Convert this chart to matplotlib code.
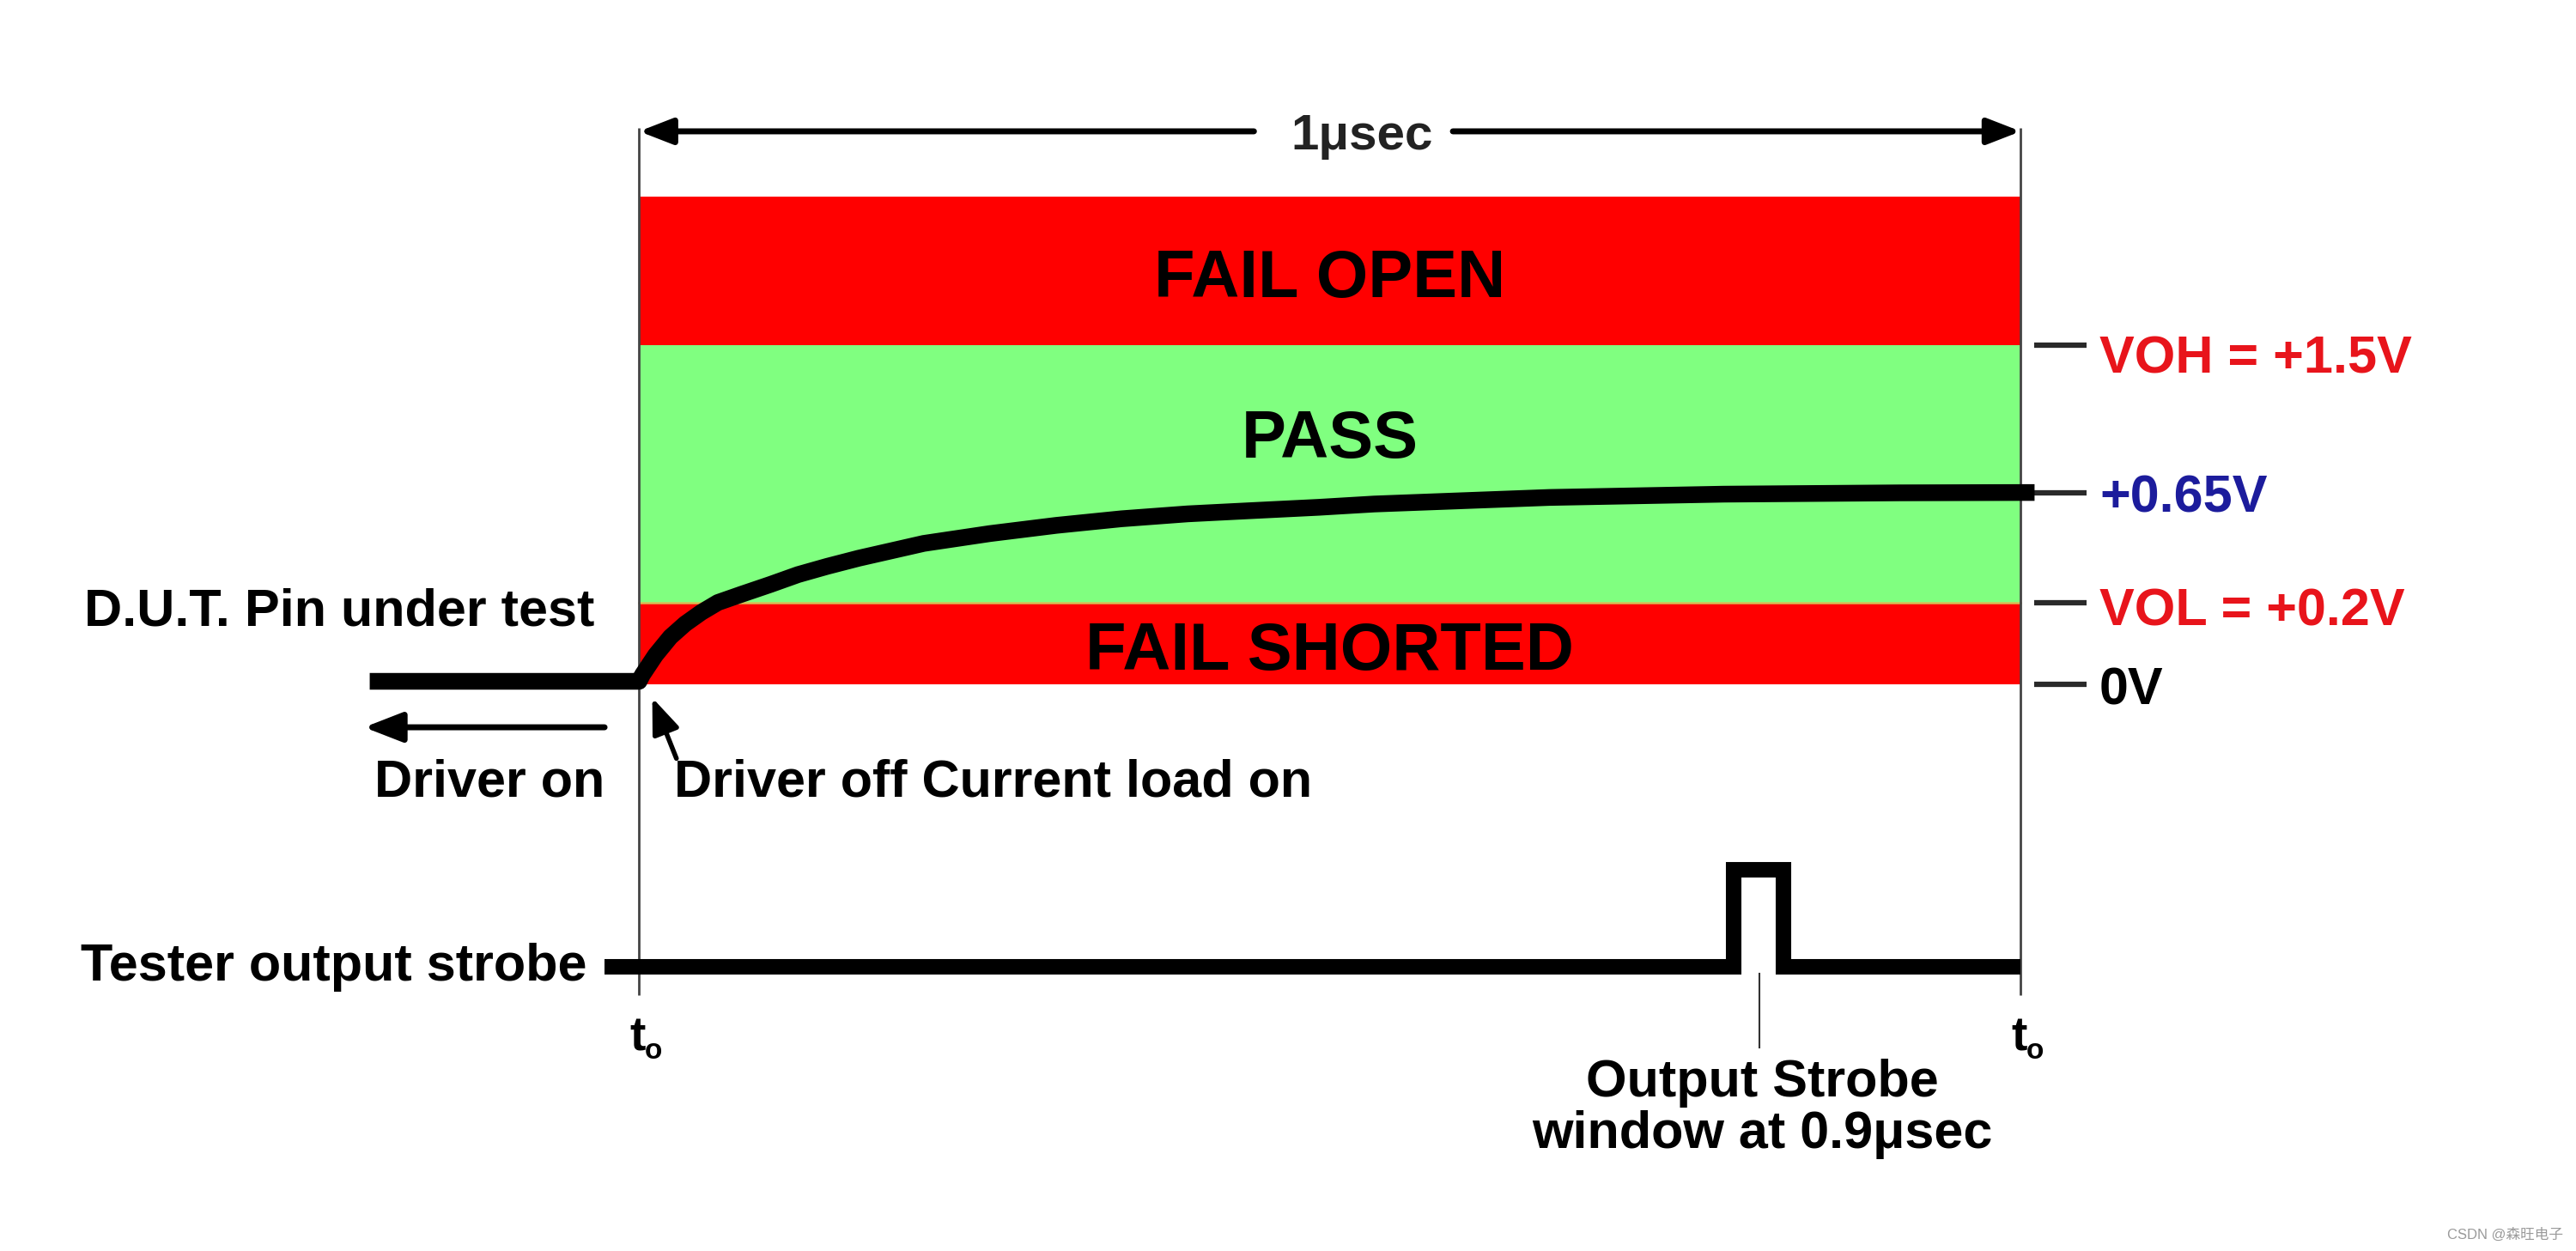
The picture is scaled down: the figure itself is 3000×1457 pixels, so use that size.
"""
DUT 输出引脚测试时序示意图

t0 起 1μs 窗口内, 在 0.9μs 处选通比较输出电平
"""

import matplotlib.pyplot as plt

# 横轴: t0 = 0, 1μs = 1.0 ; 纵轴: 示意图电平单位 (0V = 0, 非等比例)
band_names = ["FAIL OPEN", "PASS", "FAIL SHORTED"]
band_bottom = [207, 50, 0]
band_top = [297, 207, 50]
band_colors = ["#ff0000", "#80ff80", "#ff0000"]
band_text_y = [236, 138, 9]

level_labels = ["VOH = +1.5V", "+0.65V", "VOL = +0.2V", "0V"]
level_y = [207, 117, 50, 0]
level_colors = ["#e8141b", "#1c1c9c", "#e8141b", "#000000"]
level_text_y = [190, 105, 36, -12]

# 引脚电压波形
pin_t = [-0.195, 0.0, 0.0024, 0.0119, 0.0226, 0.0333, 0.045, 0.057, 0.074, 0.095,
         0.115, 0.136, 0.159, 0.206, 0.254, 0.302, 0.349, 0.397, 0.444, 0.492,
         0.532, 0.659, 0.785, 0.912, 1.0, 1.01]
pin_v = [2, 2, 6, 18, 29, 37, 44, 50, 55, 61,
         67, 72, 77, 86, 92, 97, 101, 104, 106, 108,
         110, 114, 116, 116.8, 117, 117]

# 测试机选通信号
strobe_t = [-0.025, 0.792, 0.792, 0.828, 0.828, 1.0]
strobe_v = [-172, -172, -113, -113, -172, -172]
strobe_at = 0.811

FONT = ["Liberation Sans", "DejaVu Sans"]


def label(ax, x, y, s, size=44, ha="center", color="black"):
    ax.text(x, y, s, ha=ha, va="baseline", fontsize=size, fontweight="bold",
            color=color, family=FONT)


def arrow(ax, tip, tail, lw=5, scale=30):
    ax.annotate("", xy=tip, xytext=tail,
                arrowprops=dict(arrowstyle="-|>,head_length=0.9,head_width=0.35",
                                lw=lw, color="black", mutation_scale=scale,
                                shrinkA=0, shrinkB=0))


def main():
    fig = plt.figure(figsize=(30, 14.57), dpi=100)
    ax = fig.add_axes([0, 0, 1, 1])
    ax.set_xlim(-0.4626, 1.4019)
    ax.set_ylim(-345, 417)
    ax.axis("off")

    # 判定区域
    for name, lo, hi, c, ty in zip(band_names, band_bottom, band_top, band_colors, band_text_y):
        ax.bar(0.5, hi - lo, bottom=lo, width=1.0, color=c, linewidth=0)
        label(ax, 0.5, ty, name, size=56)
    ax.plot([0, 1], [band_bottom[1], band_bottom[1]], color="#d8bd55", lw=1.8)

    # 时间窗口边界
    ax.vlines([0, 1], -189, 339, color="#444444", lw=2)
    arrow(ax, (0, 337), (0.445, 337), lw=5, scale=26)
    arrow(ax, (1, 337), (0.589, 337), lw=5, scale=26)
    label(ax, 0.523, 326, "1μsec", size=42, color="#222222")

    # 右侧电平刻度
    ax.hlines(level_y, 1.0095, 1.0476, color="#2a2a2a", lw=4.5)
    for s, ty, c in zip(level_labels, level_text_y, level_colors):
        label(ax, 1.057, ty, s, ha="left", color=c)

    # 波形
    ax.plot(pin_t, pin_v, color="black", lw=14, solid_capstyle="butt", solid_joinstyle="round")
    ax.plot(strobe_t, strobe_v, color="black", lw=13, solid_capstyle="butt", solid_joinstyle="miter")
    ax.plot([strobe_at, strobe_at], [-176, -221], color="#333333", lw=1.5)

    # 左侧说明
    label(ax, -0.032, 36, "D.U.T. Pin under test", ha="right")
    arrow(ax, (-0.199, -26), (-0.025, -26), lw=5, scale=30)
    arrow(ax, (0.0095, -8), (0.027, -45), lw=4, scale=28)
    label(ax, -0.108, -68, "Driver on")
    label(ax, 0.025, -68, "Driver off Current load on", ha="left")
    label(ax, -0.038, -180, "Tester output strobe", ha="right")

    for x in [0, 1]:
        label(ax, x + 0.0045, -223, "t", size=40, ha="right")
        label(ax, x + 0.0040, -228, "o", size=24, ha="left")

    label(ax, 0.813, -251, "Output Strobe")
    label(ax, 0.813, -282, "window at 0.9μsec")

    fig.text(0.995, 0.013, "CSDN @森旺电子", ha="right", va="center", fontsize=12,
             color="#9a9a9a", family=["Liberation Sans", "Noto Sans CJK SC"])

    fig.savefig("out.png", dpi=100)
    plt.close(fig)


if __name__ == "__main__":
    main()
